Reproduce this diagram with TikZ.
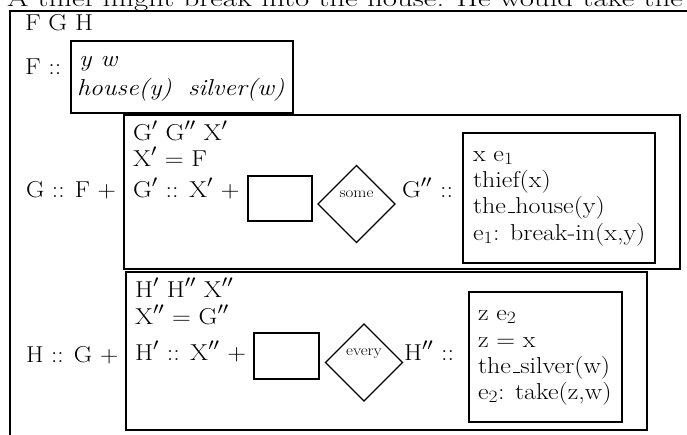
\documentclass[tikz,border=0pt]{standalone}
\usetikzlibrary{shapes.geometric}
\newcommand{\mf}{\fontsize{23}{27}\selectfont}
\newcommand{\smf}{\fontsize{15}{18}\selectfont}
\newcommand{\st}[1]{\scalebox{1.13}[1]{#1}}
\newcommand{\stl}[1]{\scalebox{1.1}[1]{#1}}
\newcommand{\us}{\leavevmode\kern.06em\rule{0.3em}{0.06em}}
\begin{document}
\begin{tikzpicture}[x=1pt,y=-1pt,
  txt/.style={inner sep=0pt, outer sep=0pt, anchor=base west, font=\mf},
  frame/.style={draw, line width=2pt, inner sep=0pt, outer sep=0pt, anchor=north west},
  bigbox/.style={draw, line width=2.6pt, inner sep=0pt, outer sep=0pt, anchor=north west},
  dia/.style={draw, diamond, line width=1.1pt, inner sep=0pt, outer sep=0pt, minimum width=77pt, minimum height=77pt},
  quant/.style={inner sep=0pt, outer sep=0pt, anchor=base, font=\smf}]
\useasboundingbox (0,0) rectangle (687,434);
\clip (0,0) rectangle (687,434);
% clipped sentence above the figure
\node[txt] (toptext) at (7,6) {\resizebox{676pt}{\height}{A thief might break into the house. He would take the}};
% outer box
\node[frame, minimum width=720pt, minimum height=450pt] (outer) at (10,11) {};
\node[txt] (fgh) at (25,30) {\st{F G H}};
% F
\node[txt] (flab) at (25,74) {\st{F ::}};
\node[frame, minimum width=222pt, minimum height=72pt] (fbox) at (71,41) {};
\node[txt] (fvars) at (79,66) {\st{\itshape y w}};
\node[txt] (fhouse) at (77,95) {\st{\itshape house(y)}};
\node[txt] (fsilver) at (188,95) {\st{\itshape silver(w)}};
% G
\node[txt] (glab) at (26,197) {\stl{G :: F +}};
\node[bigbox, minimum width=556pt, minimum height=154pt] (gbox) at (124,115) {};
\node[txt] (gl1) at (133,140) {\st{G$'$ G$''$ X$'$}};
\node[txt] (gl2) at (133,166) {\st{X$'$ = F}};
\node[txt] (gl3) at (133,197) {\st{G$'$ :: X$'$ +}};
\node[bigbox, minimum width=64pt, minimum height=45pt] (grect) at (248,176) {};
\node[dia] (gdia) at (356.5,204) {};
\node[quant] (gsome) at (356.5,197) {\st{some}};
\node[txt] (gpp) at (402,197) {\st{G$''$ ::}};
\node[bigbox, minimum width=192pt, minimum height=130pt] (gin) at (463,133) {};
\node[txt] (gi1) at (473,161) {\st{x e$_1$}};
\node[txt] (gi2) at (473,187) {\st{thief(x)}};
\node[txt] (gi3) at (473,213) {\st{the\us house(y)}};
\node[txt] (gi4) at (473,240) {\st{e$_1$: break-in(x,y)}};
% H
\node[txt] (hlab) at (26,362) {\stl{H :: G +}};
\node[bigbox, minimum width=521pt, minimum height=158pt] (hbox) at (126,272) {};
\node[txt] (hl1) at (135,297) {\st{H$'$ H$''$ X$''$}};
\node[txt] (hl2) at (135,324) {\st{X$''$ = G$''$}};
\node[txt] (hl3) at (135,360) {\st{H$'$ :: X$''$ +}};
\node[bigbox, minimum width=65pt, minimum height=46pt] (hrect) at (254,333) {};
\node[dia] (hdia) at (364,362.5) {};
\node[quant] (hevery) at (364,355) {\st{every}};
\node[txt] (hpp) at (404,360) {\st{H$''$ ::}};
\node[bigbox, minimum width=153pt, minimum height=130pt] (hin) at (469,292) {};
\node[txt] (hi1) at (478,320) {\st{z e$_2$}};
\node[txt] (hi2) at (478,347) {\st{z = x}};
\node[txt] (hi3) at (478,373) {\st{the\us silver(w)}};
\node[txt] (hi4) at (478,399) {\st{e$_2$: take(z,w)}};
\end{tikzpicture}
\end{document}
